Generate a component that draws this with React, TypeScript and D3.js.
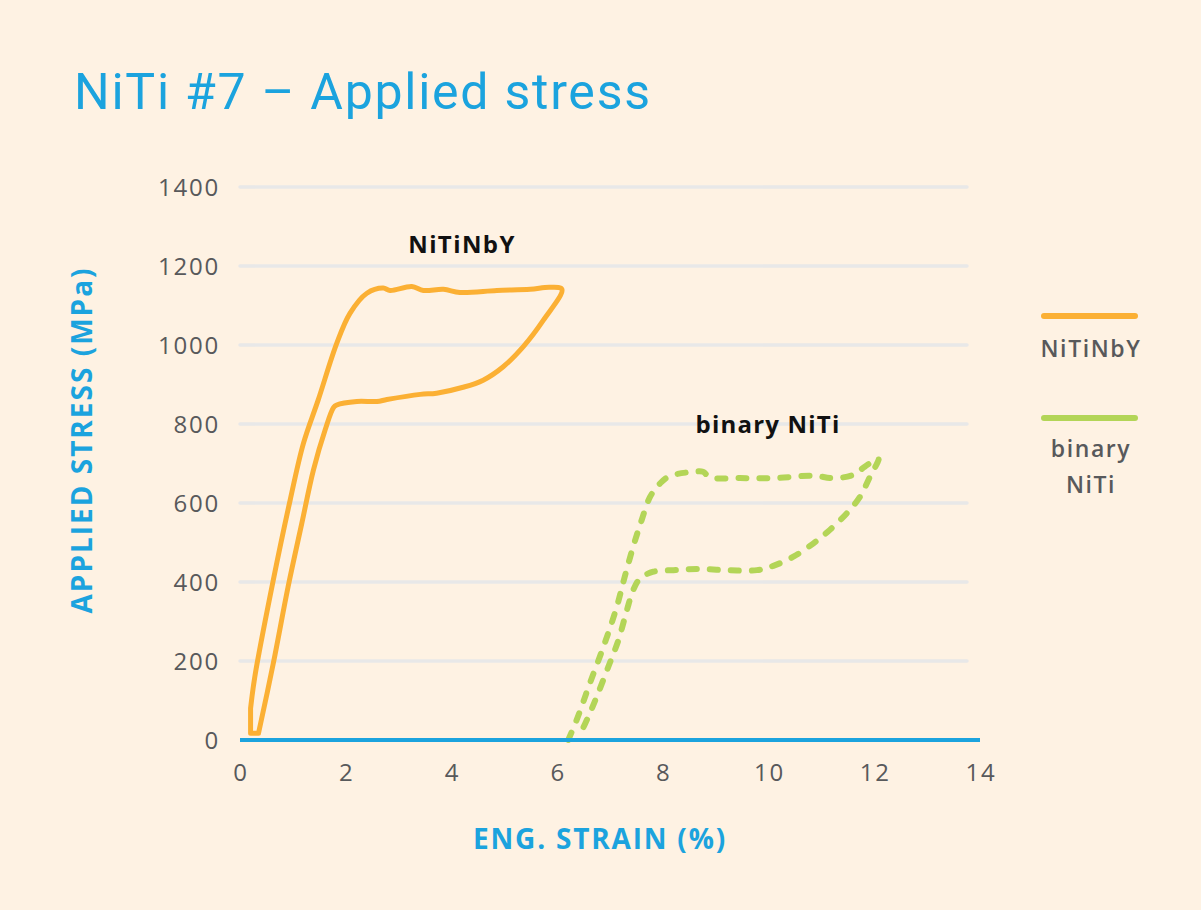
import React from 'react';
import * as d3 from 'd3';

interface Pt {
  x: number;
  y: number;
}

// strain (%), stress (MPa), path order around each loop
const nitinbyStrain = [0.35, 0.2, 0.2, 0.28, 0.63, 0.95, 1.2, 1.48, 1.83, 2.08, 2.4, 2.71, 2.84, 3.25, 3.47, 3.85, 4.16, 4.86, 5.49, 5.86, 6.09,
  5.74, 5.36, 4.98, 4.6, 4.22, 3.72, 3.41, 2.78, 2.59, 2.21, 1.83, 1.77, 1.61, 1.39, 1.17, 0.91, 0.63, 0.35];
const nitinbyStress = [17, 17, 80, 160, 405, 608, 751, 861, 1004, 1080, 1131, 1144, 1138, 1148, 1138, 1141, 1133, 1138, 1141, 1146, 1141,
  1063, 996, 945, 911, 893, 878, 875, 862, 857, 857, 848, 842, 785, 684, 549, 388, 194, 17];

const binaryStrain = [6.21, 6.37, 6.62, 6.9, 7.13, 7.28, 7.44, 7.6, 7.76, 7.95, 8.13, 8.58, 8.76, 8.89, 9.46, 10.09, 10.85, 11.22, 11.6, 11.82, 12.08,
  11.92, 11.73, 11.48, 11.16, 10.85, 10.47, 10.09, 9.78, 9.21, 8.64, 8.2, 7.82, 7.57, 7.44, 7.32, 7.16, 6.97, 6.75, 6.59, 6.43];
const binaryStress = [0, 51, 144, 245, 338, 414, 490, 557, 616, 650, 668, 679, 679, 665, 663, 663, 669, 663, 671, 692, 713,
  667, 616, 574, 532, 498, 464, 441, 430, 430, 433, 430, 426, 409, 380, 329, 253, 186, 110, 59, 13];

const xTicks = [0, 2, 4, 6, 8, 10, 12, 14];
const yTicks = [0, 200, 400, 600, 800, 1000, 1200, 1400];

const seriesNames = ['NiTiNbY', 'binary NiTi'];

const ORANGE = '#fbb034';
const GREEN = '#b3d557';
const BLUE = '#1ba3de';
const GREY = '#58595b';
const LABEL_FONT = '"Open Sans", sans-serif';

const toPoints = (xs: number[], ys: number[]): Pt[] => xs.map((x, i) => ({ x, y: ys[i] }));

const App: React.FC = () => {
  const width = 1201;
  const height = 910;

  const x = d3.scaleLinear().domain([0, 14]).range([240, 980]);
  const y = d3.scaleLinear().domain([0, 1400]).range([740, 187]);

  const straight = d3.line<Pt>()
    .x(d => x(d.x))
    .y(d => y(d.y));

  const smooth = d3.line<Pt>()
    .x(d => x(d.x))
    .y(d => y(d.y))
    .curve(d3.curveCatmullRom.alpha(0.5));

  const nitinby = toPoints(nitinbyStrain, nitinbyStress);
  const binary = toPoints(binaryStrain, binaryStress);

  // the little foot at the bottom of the loop is straight, the rest is smooth
  const orangeD = (straight(nitinby.slice(0, 3)) ?? '') + (smooth(nitinby.slice(2)) ?? '');

  return (
    <svg width={width} height={height} style={{ position: 'absolute', left: 0, top: 0, display: 'block' }}>
      <rect width={width} height={height} fill="#fef2e3" />

      <text x={74} y={109} fill={BLUE} fontFamily="Roboto, sans-serif" fontSize={50} fontWeight={400}
        textLength={576} lengthAdjust="spacing">
        NiTi #7 – Applied stress
      </text>

      {/* grid */}
      {yTicks.filter(t => t > 0).map(t => (
        <line key={t} x1={x(0)} x2={967} y1={y(t)} y2={y(t)} stroke="#e8e8e8" strokeWidth={3.5} strokeLinecap="round" />
      ))}

      {/* y tick labels */}
      {yTicks.map(t => (
        <text key={t} x={220} y={y(t)} dy="0.36em" textAnchor="end" fill={GREY} fontFamily={LABEL_FONT} fontSize={24} letterSpacing={1.8}>
          {t}
        </text>
      ))}

      {/* x tick labels */}
      {xTicks.map(t => (
        <text key={t} x={x(t) + 1} y={781} textAnchor="middle" fill={GREY} fontFamily={LABEL_FONT} fontSize={24} letterSpacing={1.8}>
          {t}
        </text>
      ))}

      {/* curves */}
      <path d={orangeD} fill="none" stroke={ORANGE} strokeWidth={5} strokeLinejoin="round" strokeLinecap="round" />
      <path d={smooth(binary) ?? ''} fill="none" stroke={GREEN} strokeWidth={6} strokeLinecap="round" strokeDasharray="8 13" />

      {/* baseline */}
      <line x1={x(0)} x2={x(14)} y1={y(0)} y2={y(0)} stroke={BLUE} strokeWidth={4} />

      {/* annotations */}
      <text x={462} y={253} textAnchor="middle" fontFamily={LABEL_FONT} fontWeight={700} fontSize={24} letterSpacing={1.4} fill="#111">
        {seriesNames[0]}
      </text>
      <text x={768} y={433} textAnchor="middle" fontFamily={LABEL_FONT} fontWeight={700} fontSize={24} letterSpacing={1.2} fill="#111">
        {seriesNames[1]}
      </text>

      {/* axis titles */}
      <text x={600} y={849} textAnchor="middle" fontFamily={LABEL_FONT} fontWeight={700} fontSize={28} letterSpacing={1.8} fill={BLUE}>
        ENG. STRAIN (%)
      </text>
      <text transform="translate(92,440) rotate(-90)" textAnchor="middle" fontFamily={LABEL_FONT} fontWeight={700} fontSize={28} letterSpacing={2} fill={BLUE}>
        APPLIED STRESS (MPa)
      </text>

      {/* legend */}
      <line x1={1044} x2={1135} y1={316} y2={316} stroke={ORANGE} strokeWidth={6} strokeLinecap="round" />
      <text x={1091} y={357} textAnchor="middle" fontFamily={LABEL_FONT} fontWeight={600} fontSize={23} letterSpacing={1.6} fill={GREY}>
        NiTiNbY
      </text>
      <line x1={1044} x2={1135} y1={418} y2={418} stroke={GREEN} strokeWidth={6} strokeLinecap="round" />
      <text x={1091} y={457} textAnchor="middle" fontFamily={LABEL_FONT} fontWeight={600} fontSize={23} letterSpacing={1.6} fill={GREY}>
        binary
      </text>
      <text x={1091} y={493} textAnchor="middle" fontFamily={LABEL_FONT} fontWeight={600} fontSize={23} letterSpacing={1.6} fill={GREY}>
        NiTi
      </text>
    </svg>
  );
};

export default App;
